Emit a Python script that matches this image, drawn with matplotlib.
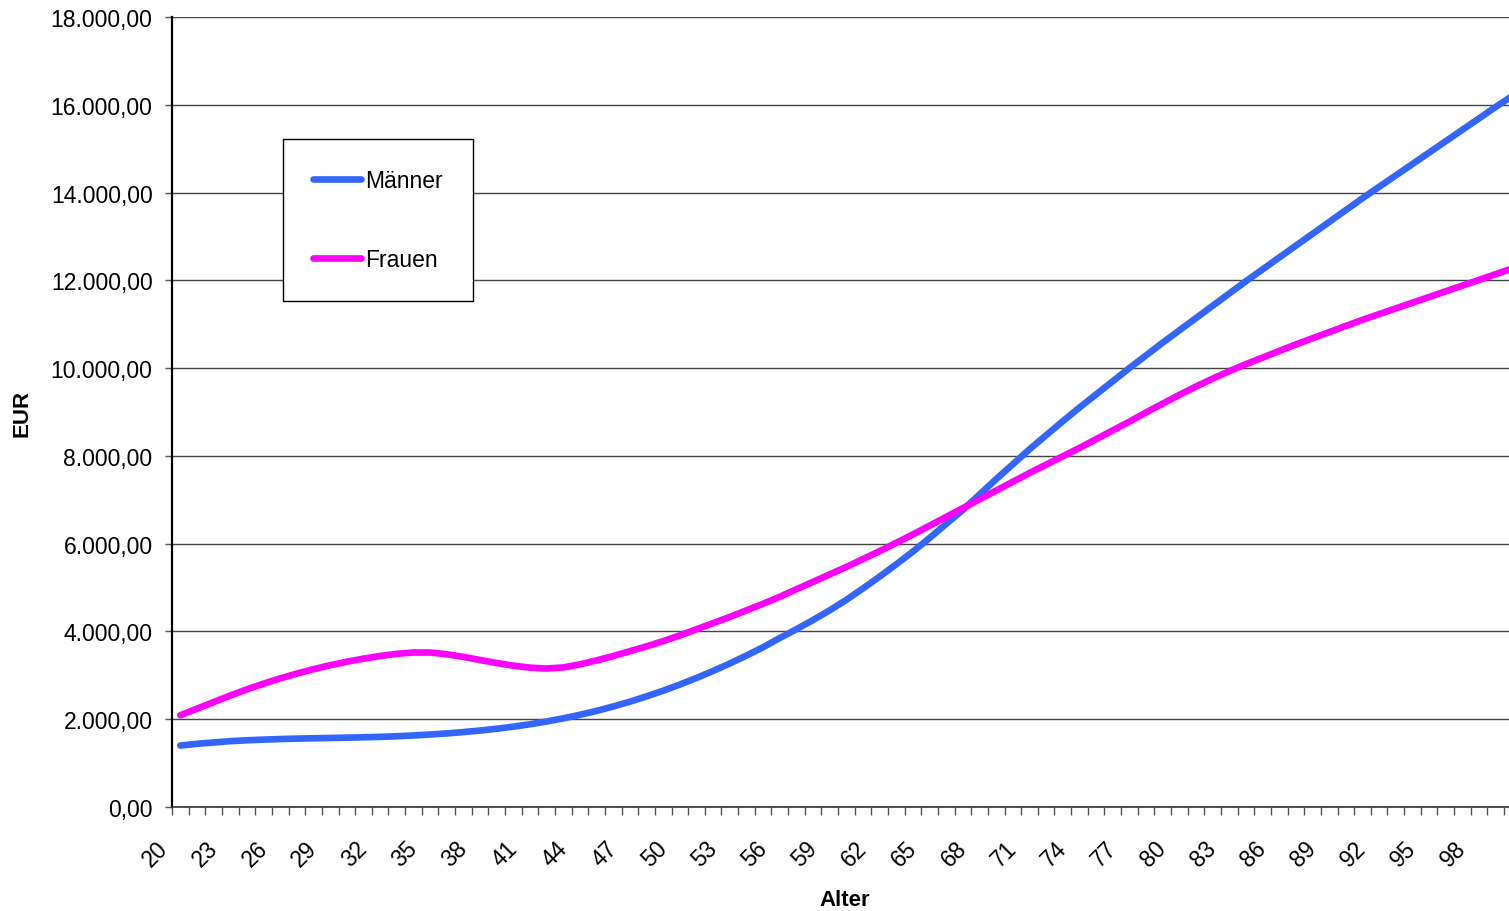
import numpy as np
import matplotlib
matplotlib.use("Agg")
import matplotlib.pyplot as plt

plt.rcParams['font.family'] = ['Liberation Sans', 'DejaVu Sans']

ages = list(range(20, 101))

maenner = [1400, 1440, 1470, 1500, 1520, 1535, 1548, 1558, 1566, 1573,
           1580, 1588, 1598, 1612, 1630, 1652, 1677, 1707, 1742, 1783,
           1830, 1885, 1948, 2020, 2100, 2190, 2290, 2400, 2520, 2650,
           2790, 2940, 3100, 3270, 3450, 3640, 3850, 4050, 4260, 4480,
           4720, 4980, 5250, 5530, 5820, 6130, 6450, 6770, 7120, 7470,
           7810, 8150, 8470, 8790, 9100, 9400, 9700, 10000, 10290, 10580,
           10860, 11140, 11420, 11700, 11980, 12250, 12520, 12790, 13060, 13330,
           13600, 13870, 14130, 14390, 14650, 14910, 15170, 15430, 15690, 15950,
           16200]

frauen = [2090, 2240, 2390, 2540, 2680, 2810, 2930, 3040, 3140, 3230,
          3310, 3380, 3440, 3490, 3520, 3520, 3480, 3420, 3350, 3280,
          3220, 3175, 3155, 3180, 3250, 3340, 3440, 3550, 3660, 3780,
          3910, 4050, 4190, 4330, 4480, 4630, 4790, 4960, 5130, 5300,
          5470, 5650, 5830, 6020, 6210, 6410, 6610, 6810, 7010, 7210,
          7410, 7610, 7800, 7990, 8180, 8380, 8580, 8780, 8990, 9190,
          9390, 9580, 9760, 9930, 10090, 10240, 10390, 10540, 10680, 10820,
          10960, 11100, 11230, 11360, 11490, 11620, 11750, 11880, 12010, 12140,
          12270]

y_ticks = list(range(0, 18001, 2000))


def de_format(v):
    s = f"{v:,.2f}"
    return s.replace(',', 'X').replace('.', ',').replace('X', '.')


fig = plt.figure(figsize=(15.09, 9.12), dpi=100)
ax = fig.add_axes([172 / 1509, 104 / 912, 1337 / 1509, 790 / 912])

x = np.array(ages) - ages[0] + 0.5
ax.plot(x, maenner, color='#3366FF', lw=4.8, solid_capstyle='round', label='Männer', zorder=3)
ax.plot(x, frauen, color='#FF00FF', lw=4.8, solid_capstyle='round', label='Frauen', zorder=3)

ax.set_xlim(0, 80.3)
ax.set_ylim(0, 18000)

# horizontal grid
ax.set_yticks(y_ticks)
ax.set_yticklabels([de_format(v) for v in y_ticks])
ax.yaxis.grid(True, color='#444444', lw=1)
ax.set_axisbelow(True)

bounds = np.arange(0, 81)
ax.set_xticks(bounds)
ax.set_xticklabels([str(ages[0] + i) if i % 3 == 0 else '' for i in bounds],
                   rotation=45, ha='right', va='top', rotation_mode='default')
ax.tick_params(axis='x', length=6, width=1, color='#555555', pad=15, labelsize=16.5)
ax.tick_params(axis='y', length=5, width=1, color='#555555', pad=9, labelsize=16.5)

for s in ['top', 'right']:
    ax.spines[s].set_visible(False)
ax.spines['left'].set_linewidth(1.6)
ax.spines['bottom'].set_linewidth(1.2)
ax.spines['bottom'].set_color('#333333')

fig.text(22 / 1509, 1 - 413 / 912, 'EUR', rotation=90, fontsize=16, fontweight='bold',
         ha='center', va='center')
fig.text(845 / 1509, 1 - 901 / 912, 'Alter', fontsize=16, fontweight='bold',
         ha='center', va='center')

leg = ax.legend(loc='upper left', bbox_to_anchor=(283 / 1509, 1 - 140 / 912),
                bbox_transform=fig.transFigure, borderaxespad=0, fontsize=16.5,
                handlelength=2.1, handletextpad=0.2, labelspacing=2.45, borderpad=1.3,
                fancybox=False, framealpha=1, edgecolor='black')
leg.get_frame().set_linewidth(1)

fig.savefig('out.png', dpi=100)
